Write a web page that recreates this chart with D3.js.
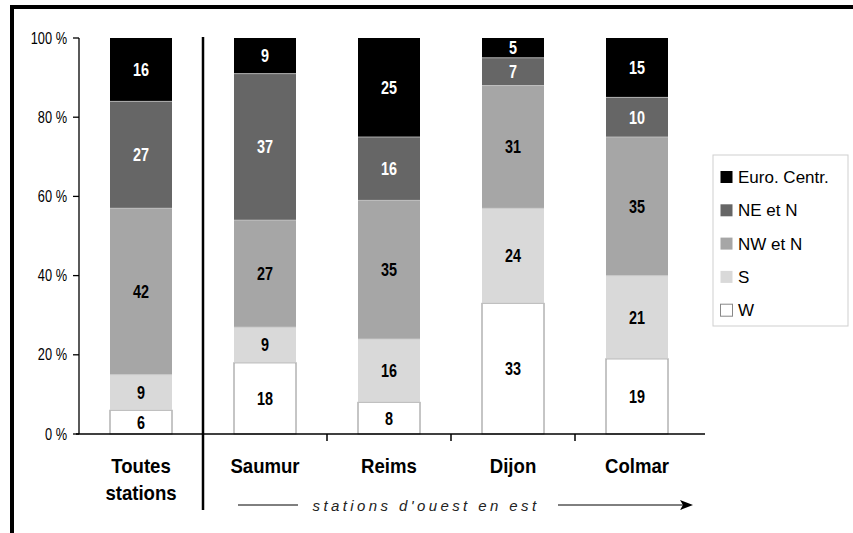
<!DOCTYPE html>
<html><head><meta charset="utf-8">
<script src="https://cdn.jsdelivr.net/npm/d3@7"></script>
<style>body{margin:0;background:#fff}svg{display:block}</style>
</head><body>
<svg id="c" width="853" height="533"></svg>
<script>
const categories = ["Toutes stations","Saumur","Reims","Dijon","Colmar"];
const catLines = [["Toutes","stations"],["Saumur"],["Reims"],["Dijon"],["Colmar"]];
const seriesNames = ["W","S","NW et N","NE et N","Euro. Centr."];
const W_vals   = [6,18,8,33,19];
const S_vals   = [9,9,16,24,21];
const NW_vals  = [42,27,35,31,35];
const NE_vals  = [27,37,16,7,10];
const EC_vals  = [16,9,25,5,15];
const yTicks = [0,20,40,60,80,100];
const tickLabels = ["0 %","20 %","40 %","60 %","80 %","100 %"];
const subtitle = "stations d'ouest en est";

const colors = ["#ffffff","#d9d9d9","#a6a6a6","#666666","#000000"];
const labelColors = ["#000","#000","#000","#fff","#fff"];
const allSeries = [W_vals,S_vals,NW_vals,NE_vals,EC_vals];

const svg = d3.select("#c");
const FONT = "'Liberation Sans', Arial, sans-serif";

function txt(x,y,s,o){
  o=o||{};
  return svg.append("text")
    .attr("transform",`translate(${x},${y}) scale(${o.sx||1},1)`)
    .attr("text-anchor",o.anchor||"middle")
    .attr("font-family",FONT)
    .attr("font-size",o.size||14)
    .attr("font-weight",o.weight||"normal")
    .attr("font-style",o.italic?"italic":"normal")
    .attr("letter-spacing",o.ls||0)
    .attr("fill",o.fill||"#000")
    .text(s);
}

const x = d3.scaleBand().domain(categories).range([79,699]).paddingInner(0.5).paddingOuter(0.25);
const y = d3.scaleLinear().domain([0,100]).range([434,38]);

// stacked data
const rows = categories.map((c,i)=>{const r={cat:c}; seriesNames.forEach((s,k)=>r[s]=allSeries[k][i]); return r;});
const stack = d3.stack().keys(seriesNames)(rows);

stack.forEach((layer,k)=>{
  layer.forEach((d,i)=>{
    const cat = categories[i];
    svg.append("rect")
      .attr("x",x(cat)).attr("width",x.bandwidth())
      .attr("y",y(d[1])).attr("height",y(d[0])-y(d[1]))
      .attr("fill",colors[k])
      .attr("stroke",k===0?"#8c8c8c":"none").attr("stroke-width",1);
    if(k>0 && d[0]>0){
      svg.append("line").attr("x1",x(cat)).attr("x2",x(cat)+x.bandwidth())
        .attr("y1",y(d[0])).attr("y2",y(d[0])).attr("stroke","#c8c8c8").attr("stroke-width",0.8);
    }
    const v = d[1]-d[0];
    txt(x(cat)+x.bandwidth()/2, (y(d[0])+y(d[1]))/2+6.5, String(v),
      {size:18,weight:"bold",sx:0.8,fill:labelColors[k]});
  });
});

// y axis
const yAxisX = 79;
svg.append("line").attr("x1",yAxisX).attr("x2",yAxisX).attr("y1",y(100)).attr("y2",y(0)).attr("stroke","#000").attr("stroke-width",1.3);
yTicks.forEach((t,i)=>{
  svg.append("line").attr("x1",yAxisX-6).attr("x2",yAxisX).attr("y1",y(t)).attr("y2",y(t)).attr("stroke","#000").attr("stroke-width",1.3);
  txt(67, y(t)+5.5, tickLabels[i], {size:16,anchor:"end",sx:0.8});
});

// x axis
svg.append("line").attr("x1",76).attr("x2",705).attr("y1",y(0)).attr("y2",y(0)).attr("stroke","#000").attr("stroke-width",1.5);
const step = x.step();
for(let i=2;i<categories.length;i++){
  const bx = x(categories[i]) - step*0.25;
  svg.append("line").attr("x1",bx).attr("x2",bx).attr("y1",y(0)).attr("y2",y(0)+7).attr("stroke","#000").attr("stroke-width",1.5);
}
// separator
const sepX = x(categories[1]) - step*0.25;
svg.append("line").attr("x1",sepX).attr("x2",sepX).attr("y1",37).attr("y2",510).attr("stroke","#000").attr("stroke-width",2.5);

// category labels
catLines.forEach((lines,i)=>{
  const cx = x(categories[i])+x.bandwidth()/2;
  lines.forEach((l,j)=>{
    txt(cx, 473+j*27, l, {size:20,weight:"bold",sx:0.93});
  });
});

// subtitle with arrows
txt(426, 511, subtitle, {size:15,italic:true,ls:3.4,fill:"#222"});
svg.append("line").attr("x1",238).attr("x2",298).attr("y1",505).attr("y2",505).attr("stroke","#000").attr("stroke-width",1);
svg.append("line").attr("x1",558).attr("x2",684).attr("y1",505).attr("y2",505).attr("stroke","#000").attr("stroke-width",1);
svg.append("path").attr("d","M680,500 L693,505 L680,510 L683,505 Z").attr("fill","#000");

// legend
const lg = {x:713,y:155,w:135,h:171};
svg.append("rect").attr("x",lg.x).attr("y",lg.y).attr("width",lg.w).attr("height",lg.h).attr("fill","#fff").attr("stroke","#cfcfcf").attr("stroke-width",1);
const legendOrder = [4,3,2,1,0];
legendOrder.forEach((k,j)=>{
  const cy = 177 + j*33.3;
  svg.append("rect").attr("x",720.5).attr("y",cy-6).attr("width",12).attr("height",12)
    .attr("fill",colors[k]).attr("stroke",k===0?"#888":"none").attr("stroke-width",1);
  txt(738, cy+6, seriesNames[k], {size:17,anchor:"start",fill:"#000"});
});

// frame
svg.append("path").attr("d","M12,533 V7 H853").attr("fill","none").attr("stroke","#000").attr("stroke-width",4);
</script>
</body></html>
